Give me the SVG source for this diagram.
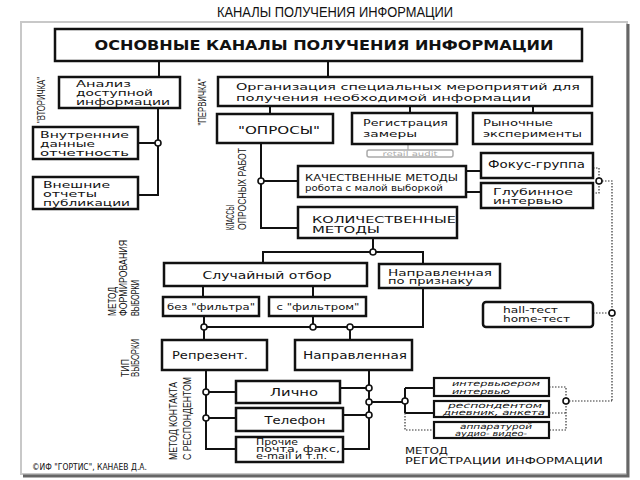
<svg xmlns="http://www.w3.org/2000/svg" width="640" height="480" viewBox="0 0 640 480">
<style>
.b{fill:#fff;stroke:#111;stroke-width:2.5}
.r{fill:#fff;stroke:#111;stroke-width:2.2}
.t{font-family:"DejaVu Sans",Verdana,sans-serif;font-size:9.5px;fill:#111}
.u{font-family:"DejaVu Sans",Verdana,sans-serif;font-size:11px;fill:#111}
.s{font-family:"DejaVu Sans",Verdana,sans-serif;font-size:8px;fill:#111}
.i{font-family:"DejaVu Sans",Verdana,sans-serif;font-size:7.5px;font-style:italic;fill:#111}
.l{font-family:"Liberation Sans",Arial,sans-serif;font-size:10.5px;fill:#111}
.c{fill:none;stroke:#111;stroke-width:2}
.d{fill:none;stroke:#333;stroke-width:1.2;stroke-dasharray:1.5 1.5}
.o{fill:#fff;stroke:#111;stroke-width:1.6}
</style>
<rect width="640" height="480" fill="#fff"/>
<text x="335" y="17" text-anchor="middle" font-family="Liberation Sans, Arial, sans-serif" font-size="14" fill="#111" textLength="236" lengthAdjust="spacingAndGlyphs">КАНАЛЫ ПОЛУЧЕНИЯ ИНФОРМАЦИИ</text>
<rect x="21" y="22" width="606" height="452" fill="none" stroke="#c8c8c8" stroke-width="2"/>
<path d="M628 24V476H23" fill="none" stroke="#666" stroke-width="3"/>

<g id="connectors">
<path class="c" d="M159 61V77M328 61V77M158 108V195H138M138 143H155M270 106V114M410 106V113M533 106V113M261 143V228H298M264 181H298M466 171H481M466 192H481M373 238V249M263 263V252H423V264M203 286V297M313 286V297M204 316V340M313 316V324M423 288V327H204M350 327V340M206 370V449H236M209 392H236M209 418H236M369 370V449H343M340 388H366M343 415H366M372 402H402M405 388V413M405 388H434M405 413H434"/>
<path d="M408 144V150" stroke="#aaa" stroke-width="1.2"/>
<path class="d" d="M405 413V430H434M593 168H599V193H593M602 181H612V401M593 313H609M549 387H566V430H549M549 413H566M569 401H612"/>
<circle class="o" cx="158" cy="143" r="3"/>
<circle class="o" cx="261" cy="181" r="3"/>
<circle class="o" cx="373" cy="252" r="3"/>
<circle class="o" cx="204" cy="327" r="3"/>
<circle class="o" cx="313" cy="327" r="3"/>
<circle class="o" cx="350" cy="327" r="3"/>
<circle class="o" cx="206" cy="392" r="3"/>
<circle class="o" cx="206" cy="418" r="3"/>
<circle class="o" cx="369" cy="388" r="3"/>
<circle class="o" cx="369" cy="402" r="3"/>
<circle class="o" cx="369" cy="415" r="3"/>
<circle class="o" cx="405" cy="401" r="3"/>
<circle class="o" cx="566" cy="401" r="3"/>
<circle class="o" cx="599" cy="181" r="3"/>
<circle class="o" cx="612" cy="313" r="3"/>
</g>

<g id="n-main"><rect class="b" x="55" y="29" width="527" height="32"/>
<text x="324" y="50" text-anchor="middle" font-family="DejaVu Sans, Verdana, sans-serif" font-weight="bold" font-size="14.5" fill="#111" textLength="459" lengthAdjust="spacingAndGlyphs">ОСНОВНЫЕ КАНАЛЫ ПОЛУЧЕНИЯ ИНФОРМАЦИИ</text></g>

<g id="n-analiz"><rect class="b" x="59" y="77" width="121" height="31"/>
<text class="t" x="76" y="86.5" font-size="9" textLength="55" lengthAdjust="spacingAndGlyphs">Анализ</text>
<text class="t" x="76" y="95.5" font-size="9" textLength="77" lengthAdjust="spacingAndGlyphs">доступной</text>
<text class="t" x="76" y="104.5" font-size="9" textLength="94" lengthAdjust="spacingAndGlyphs">информации</text></g>

<g id="n-vnutr"><rect class="b" x="33" y="127" width="105" height="32"/>
<text class="t" x="40" y="137.5" font-size="9" textLength="89" lengthAdjust="spacingAndGlyphs">Внутренние</text>
<text class="t" x="40" y="146.5" font-size="9" textLength="55" lengthAdjust="spacingAndGlyphs">данные</text>
<text class="t" x="40" y="155.5" font-size="9" textLength="89" lengthAdjust="spacingAndGlyphs">отчетность</text></g>

<g id="n-vnesh"><rect class="b" x="33" y="177" width="105" height="32"/>
<text class="t" x="43" y="187.5" font-size="9" textLength="67" lengthAdjust="spacingAndGlyphs">Внешние</text>
<text class="t" x="43" y="196.5" font-size="9" textLength="54" lengthAdjust="spacingAndGlyphs">отчеты</text>
<text class="t" x="43" y="205.5" font-size="9" textLength="87" lengthAdjust="spacingAndGlyphs">публикации</text></g>

<g id="n-org"><rect class="b" x="218" y="77" width="374" height="29"/>
<text class="t" x="236" y="90" font-size="10.5" textLength="344" lengthAdjust="spacingAndGlyphs">Организация специальных мероприятий для</text>
<text class="t" x="236" y="101" font-size="10.5" textLength="295" lengthAdjust="spacingAndGlyphs">получения необходимой информации</text></g>

<g id="n-oprosy"><rect class="b" x="217" y="114" width="116" height="29"/>
<text class="u" x="279" y="134" text-anchor="middle" textLength="82" lengthAdjust="spacingAndGlyphs">"ОПРОСЫ"</text></g>

<g id="n-reg"><rect class="b" x="352" y="113" width="105" height="31"/>
<text class="t" x="363" y="126" font-size="10.5" textLength="85" lengthAdjust="spacingAndGlyphs">Регистрация</text>
<text class="t" x="363" y="137" font-size="10.5" textLength="54" lengthAdjust="spacingAndGlyphs">замеры</text></g>

<g id="n-retail"><rect x="367" y="150" width="86" height="7" rx="2" fill="#fff" stroke="#aaa" stroke-width="1.5"/>
<text x="410" y="156" text-anchor="middle" font-family="DejaVu Sans, sans-serif" font-size="6.5" fill="#aaa" textLength="55" lengthAdjust="spacingAndGlyphs">retail audit</text></g>

<g id="n-market"><rect class="b" x="473" y="113" width="119" height="31"/>
<text class="t" x="483" y="126" font-size="10.5" textLength="70" lengthAdjust="spacingAndGlyphs">Рыночные</text>
<text class="t" x="483" y="137" font-size="10.5" textLength="99" lengthAdjust="spacingAndGlyphs">эксперименты</text></g>

<g id="n-kach"><rect class="b" x="298" y="166" width="168" height="31"/>
<text class="t" x="305" y="181" font-size="10" textLength="153" lengthAdjust="spacingAndGlyphs">КАЧЕСТВЕННЫЕ МЕТОДЫ</text>
<text class="s" x="305" y="191" font-size="7.5" textLength="138" lengthAdjust="spacingAndGlyphs">робота с малой выборкой</text></g>

<g id="n-focus"><rect class="b" x="481" y="153" width="112" height="25"/>
<text class="u" x="488" y="168" textLength="97" lengthAdjust="spacingAndGlyphs">Фокус-группа</text></g>

<g id="n-glub"><rect class="b" x="481" y="183" width="112" height="25"/>
<text class="t" x="493" y="195" textLength="80" lengthAdjust="spacingAndGlyphs">Глубинное</text>
<text class="t" x="493" y="204" textLength="70" lengthAdjust="spacingAndGlyphs">интервью</text></g>

<g id="n-kol"><rect class="b" x="298" y="207" width="159" height="31"/>
<text class="t" x="312" y="222.5" font-size="10.5" textLength="144" lengthAdjust="spacingAndGlyphs">КОЛИЧЕСТВЕННЫЕ</text>
<text class="t" x="312" y="233" font-size="10.5" textLength="68" lengthAdjust="spacingAndGlyphs">МЕТОДЫ</text></g>

<g id="n-sluch"><rect class="b" x="164" y="263" width="203" height="23"/>
<text class="u" x="267" y="279" text-anchor="middle" textLength="129" lengthAdjust="spacingAndGlyphs">Случайный отбор</text></g>

<g id="n-napr-pr"><rect class="b" x="379" y="264" width="121" height="24"/>
<text class="t" x="388" y="275.5" textLength="104" lengthAdjust="spacingAndGlyphs">Направленная</text>
<text class="t" x="388" y="284" textLength="85" lengthAdjust="spacingAndGlyphs">по признаку</text></g>

<g id="n-bez"><rect class="b" x="163" y="297" width="96" height="19"/>
<text class="s" x="211" y="310" font-size="8.5" text-anchor="middle" textLength="88" lengthAdjust="spacingAndGlyphs">без "фильтра"</text></g>

<g id="n-sf"><rect class="b" x="269" y="297" width="97" height="19"/>
<text class="s" x="318" y="310" font-size="8.5" text-anchor="middle" textLength="83" lengthAdjust="spacingAndGlyphs">с "фильтром"</text></g>

<g id="n-repr"><rect class="b" x="162" y="340" width="105" height="30"/>
<text class="u" x="210" y="359" text-anchor="middle" textLength="76" lengthAdjust="spacingAndGlyphs">Репрезент.</text></g>

<g id="n-napr"><rect class="b" x="295" y="340" width="117" height="30"/>
<text class="u" x="355" y="359" text-anchor="middle" textLength="104" lengthAdjust="spacingAndGlyphs">Направленная</text></g>

<g id="n-hall"><rect class="b" x="483" y="302" width="110" height="25" rx="3"/>
<text class="t" x="503" y="313" textLength="55" lengthAdjust="spacingAndGlyphs">hall-тест</text>
<text class="t" x="503" y="322" textLength="67" lengthAdjust="spacingAndGlyphs">home-тест</text></g>

<g id="n-lichno"><rect class="b" x="236" y="381" width="104" height="22"/>
<text class="u" x="294" y="396" text-anchor="middle" textLength="48" lengthAdjust="spacingAndGlyphs">Лично</text></g>

<g id="n-tel"><rect class="b" x="236" y="408" width="107" height="23"/>
<text class="u" x="295" y="424" text-anchor="middle" textLength="61" lengthAdjust="spacingAndGlyphs">Телефон</text></g>

<g id="n-proch"><rect class="b" x="236" y="437" width="107" height="25"/>
<text class="s" x="256" y="445" textLength="42" lengthAdjust="spacingAndGlyphs">Прочие</text>
<text class="s" x="256" y="452" textLength="84" lengthAdjust="spacingAndGlyphs">почта, факс,</text>
<text class="s" x="256" y="459" textLength="71" lengthAdjust="spacingAndGlyphs">e-mail и т.п.</text></g>

<g id="n-intv"><rect class="r" x="434" y="378" width="115" height="18"/>
<text class="i" x="452" y="386" textLength="88" lengthAdjust="spacingAndGlyphs">интервьюером</text>
<text class="i" x="452" y="393.5" textLength="58" lengthAdjust="spacingAndGlyphs">интервью</text></g>

<g id="n-resp"><rect class="r" x="434" y="401" width="115" height="16"/>
<text class="i" x="448" y="408" textLength="94" lengthAdjust="spacingAndGlyphs">респондентом</text>
<text class="i" x="443" y="415" textLength="102" lengthAdjust="spacingAndGlyphs">дневник, анкета</text></g>

<g id="n-app"><rect class="r" x="434" y="422" width="115" height="16"/>
<text class="i" x="460" y="429" textLength="72" lengthAdjust="spacingAndGlyphs">аппаратурой</text>
<text class="i" x="455" y="436" textLength="72" lengthAdjust="spacingAndGlyphs">аудио- видео-</text></g>

<g id="labels">
<text class="l" font-size="9" transform="translate(45,100) rotate(-90)" text-anchor="middle" textLength="46" lengthAdjust="spacingAndGlyphs">"ВТОРИЧКА"</text>
<text class="l" font-size="9" transform="translate(206,102) rotate(-90)" text-anchor="middle" textLength="47" lengthAdjust="spacingAndGlyphs">"ПЕРВИЧКА"</text>
<text class="l" transform="translate(234,230) rotate(-90)" textLength="25" lengthAdjust="spacingAndGlyphs">КЛАССЫ</text>
<text class="l" transform="translate(246,230) rotate(-90)" textLength="82" lengthAdjust="spacingAndGlyphs">ОПРОСНЫХ РАБОТ</text>
<text class="l" transform="translate(116,316) rotate(-90)" textLength="29" lengthAdjust="spacingAndGlyphs">МЕТОД</text>
<text class="l" transform="translate(127,316) rotate(-90)" textLength="76" lengthAdjust="spacingAndGlyphs">ФОРМИРОВАНИЯ</text>
<text class="l" transform="translate(139,316) rotate(-90)" textLength="36" lengthAdjust="spacingAndGlyphs">ВЫБОРКИ</text>
<text class="l" transform="translate(129,377) rotate(-90)" textLength="18" lengthAdjust="spacingAndGlyphs">ТИП</text>
<text class="l" transform="translate(139,377) rotate(-90)" textLength="38" lengthAdjust="spacingAndGlyphs">ВЫБОРКИ</text>
<text class="l" transform="translate(177,460) rotate(-90)" textLength="78" lengthAdjust="spacingAndGlyphs">МЕТОД КОНТАКТА</text>
<text class="l" transform="translate(191,460) rotate(-90)" textLength="83" lengthAdjust="spacingAndGlyphs">С РЕСПОНДЕНТОМ</text>
<text class="t" x="405" y="454" font-size="10" textLength="43" lengthAdjust="spacingAndGlyphs">МЕТОД</text>
<text class="t" x="405" y="464" font-size="10" textLength="198" lengthAdjust="spacingAndGlyphs">РЕГИСТРАЦИИ ИНФОРМАЦИИ</text>
<text class="s" x="32" y="470" font-size="6.5" textLength="115" lengthAdjust="spacingAndGlyphs">©ИФ "ГОРТИС", КАНАЕВ Д.А.</text>
</g>
</svg>
